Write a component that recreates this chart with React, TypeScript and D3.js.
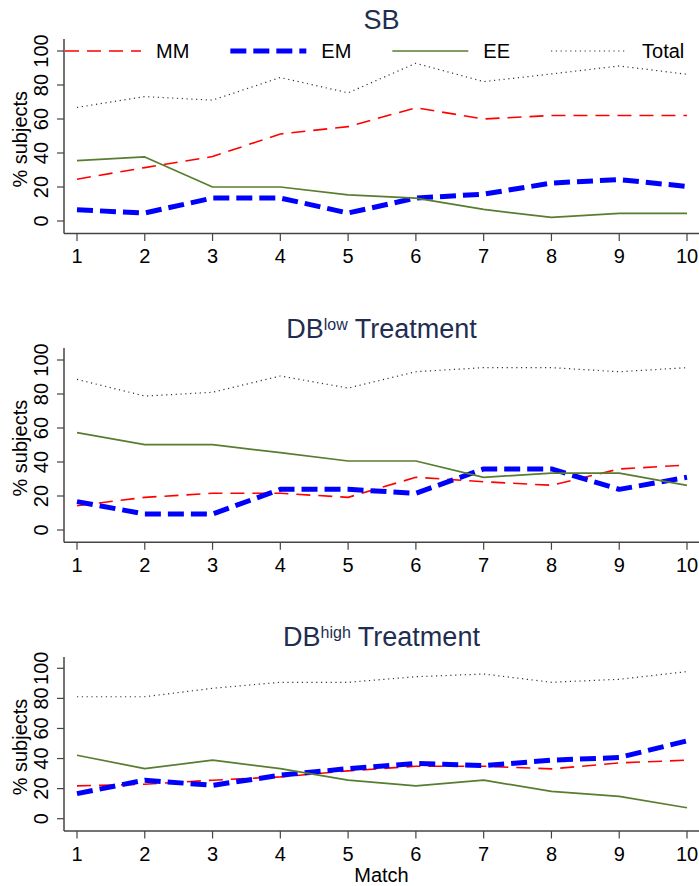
import { useEffect, useRef } from 'react';
import * as d3 from 'd3';

const MATCHES = [1, 2, 3, 4, 5, 6, 7, 8, 9, 10];
const Y_TICKS = [0, 20, 40, 60, 80, 100];

const SB_MM = [24.6, 31.4, 37.9, 51.2, 55.5, 66.6, 60.0, 62.1, 62.1, 62.1];
const SB_EM = [6.6, 4.7, 13.5, 13.5, 4.7, 13.5, 15.8, 22.3, 24.4, 20.3];
const SB_EE = [35.5, 37.7, 20.0, 20.0, 15.4, 13.5, 6.8, 2.1, 4.5, 4.5];
const SB_TOTAL = [66.8, 73.2, 71.1, 84.4, 75.4, 92.8, 82.0, 86.5, 91.2, 86.3];

const DBL_MM = [14.3, 19.2, 21.6, 21.6, 19.2, 31.0, 28.4, 26.3, 35.9, 38.2];
const DBL_EM = [16.7, 9.4, 9.4, 23.9, 23.9, 21.6, 35.9, 35.9, 23.9, 31.0];
const DBL_EE = [57.3, 50.2, 50.2, 45.5, 40.6, 40.6, 31.0, 33.5, 33.5, 26.3];
const DBL_TOTAL = [88.6, 78.8, 81.0, 90.6, 83.5, 93.1, 95.5, 95.5, 93.1, 95.5];

const DBH_MM = [21.8, 22.9, 25.6, 27.8, 31.8, 34.9, 34.9, 33.1, 37.1, 38.9];
const DBH_EM = [16.7, 25.6, 22.2, 28.9, 33.3, 36.7, 35.3, 38.9, 40.7, 51.8];
const DBH_EE = [42.2, 33.3, 38.9, 33.3, 25.6, 21.8, 25.6, 18.2, 14.9, 7.3];
const DBH_TOTAL = [81.1, 81.1, 86.7, 90.7, 90.7, 94.4, 96.2, 90.7, 92.7, 97.8];

const SERIES_NAMES = ['MM', 'EM', 'EE', 'Total'];

const PANELS = [
  { title: 'SB', sup: '', series: [SB_MM, SB_EM, SB_EE, SB_TOTAL] },
  { title: 'DB', sup: 'low', series: [DBL_MM, DBL_EM, DBL_EE, DBL_TOTAL] },
  { title: 'DB', sup: 'high', series: [DBH_MM, DBH_EM, DBH_EE, DBH_TOTAL] },
];

// pixel layout of each panel
const LAYOUT = [
  { titleY: 29, top: 39, y100: 51, y0: 221, axisY: 233.5 },
  { titleY: 338, top: 348, y100: 360, y0: 530, axisY: 542.3 },
  { titleY: 646, top: 657, y100: 668.3, y0: 818.7, axisY: 831 },
];

const STYLES = [
  { color: '#ff0000', width: 1.6, dash: '14 8' },
  { color: '#0000ff', width: 5, dash: '16 7' },
  { color: '#587d30', width: 1.7, dash: null },
  { color: '#333333', width: 1.2, dash: '1.2 3.6' },
];

const WIDTH = 699;
const HEIGHT = 886;
const LEFT = 64;
const FONT = '"Liberation Sans", Arial, Helvetica, sans-serif';
const TITLE_COLOR = '#1e2d50';
const AXIS_COLOR = '#444';

export default function App() {
  const ref = useRef(null);

  useEffect(() => {
    const svg = d3.select(ref.current);
    svg.selectAll('*').remove();

    const x = d3.scaleLinear().domain([1, 10]).range([77, 687]);

    PANELS.forEach((panel, pi) => {
      const L = LAYOUT[pi];
      const y = d3.scaleLinear().domain([0, 100]).range([L.y0, L.y100]);
      const g = svg.append('g').style('font-family', FONT);

      // title
      const t = g
        .append('text')
        .attr('x', (LEFT + WIDTH) / 2)
        .attr('y', L.titleY)
        .attr('text-anchor', 'middle')
        .attr('fill', TITLE_COLOR)
        .style('font-size', '27px');
      t.append('tspan').text(panel.title);
      if (panel.sup) {
        t.append('tspan').attr('dy', -8).style('font-size', '16px').text(panel.sup);
        t.append('tspan').attr('dy', 8).text(' Treatment');
      }

      // axes
      g.append('line')
        .attr('x1', LEFT).attr('x2', LEFT)
        .attr('y1', L.top).attr('y2', L.axisY)
        .attr('stroke', AXIS_COLOR).attr('stroke-width', 1.5);
      g.append('line')
        .attr('x1', LEFT).attr('x2', WIDTH)
        .attr('y1', L.axisY).attr('y2', L.axisY)
        .attr('stroke', AXIS_COLOR).attr('stroke-width', 1.5);

      g.selectAll('.ytick')
        .data(Y_TICKS)
        .join('line')
        .attr('x1', LEFT - 7).attr('x2', LEFT)
        .attr('y1', d => y(d)).attr('y2', d => y(d))
        .attr('stroke', AXIS_COLOR).attr('stroke-width', 1.2);

      g.selectAll('.ylab')
        .data(Y_TICKS)
        .join('text')
        .attr('transform', d => `translate(47.5,${y(d)}) rotate(-90)`)
        .attr('text-anchor', 'middle')
        .style('font-size', '20px')
        .text(d => d);

      g.append('text')
        .attr('transform', `translate(26.5,${(L.top + L.axisY) / 2 + 3}) rotate(-90)`)
        .attr('text-anchor', 'middle')
        .style('font-size', '20px')
        .text('% subjects');

      g.selectAll('.xtick')
        .data(MATCHES)
        .join('line')
        .attr('x1', d => x(d)).attr('x2', d => x(d))
        .attr('y1', L.axisY).attr('y2', L.axisY + 7.5)
        .attr('stroke', AXIS_COLOR).attr('stroke-width', 1.2);

      g.selectAll('.xlab')
        .data(MATCHES)
        .join('text')
        .attr('x', d => x(d))
        .attr('y', L.axisY + 29.5)
        .attr('text-anchor', 'middle')
        .style('font-size', '20px')
        .text(d => d);

      // series
      const line = d3
        .line()
        .x((d, i) => x(MATCHES[i]))
        .y(d => y(d));

      panel.series.forEach((vals, si) => {
        const s = STYLES[si];
        g.append('path')
          .attr('d', line(vals))
          .attr('fill', 'none')
          .attr('stroke', s.color)
          .attr('stroke-width', s.width)
          .attr('stroke-dasharray', s.dash)
          .attr('stroke-linejoin', 'round');
      });

      // legend in first panel only
      if (pi === 0) {
        const ly = y(100);
        let cx = LEFT + 1;
        SERIES_NAMES.forEach((name, si) => {
          const s = STYLES[si];
          g.append('line')
            .attr('x1', cx).attr('x2', cx + 76)
            .attr('y1', ly).attr('y2', ly)
            .attr('stroke', s.color)
            .attr('stroke-width', s.width)
            .attr('stroke-dasharray', s.dash);
          const lt = g
            .append('text')
            .attr('x', cx + 91)
            .attr('y', ly + 7)
            .style('font-size', '20px')
            .text(name);
          const w = lt.node().getComputedTextLength();
          cx = cx + 91 + w + 41;
        });
      }

      if (pi === PANELS.length - 1) {
        g.append('text')
          .attr('x', (LEFT + WIDTH) / 2)
          .attr('y', 882)
          .attr('text-anchor', 'middle')
          .style('font-size', '20px')
          .text('Match');
      }
    });
  }, []);

  return (
    <div style={{ position: 'absolute', left: 0, top: 0, background: '#fff' }}>
      <svg ref={ref} width={WIDTH} height={HEIGHT} style={{ display: 'block' }} />
    </div>
  );
}
